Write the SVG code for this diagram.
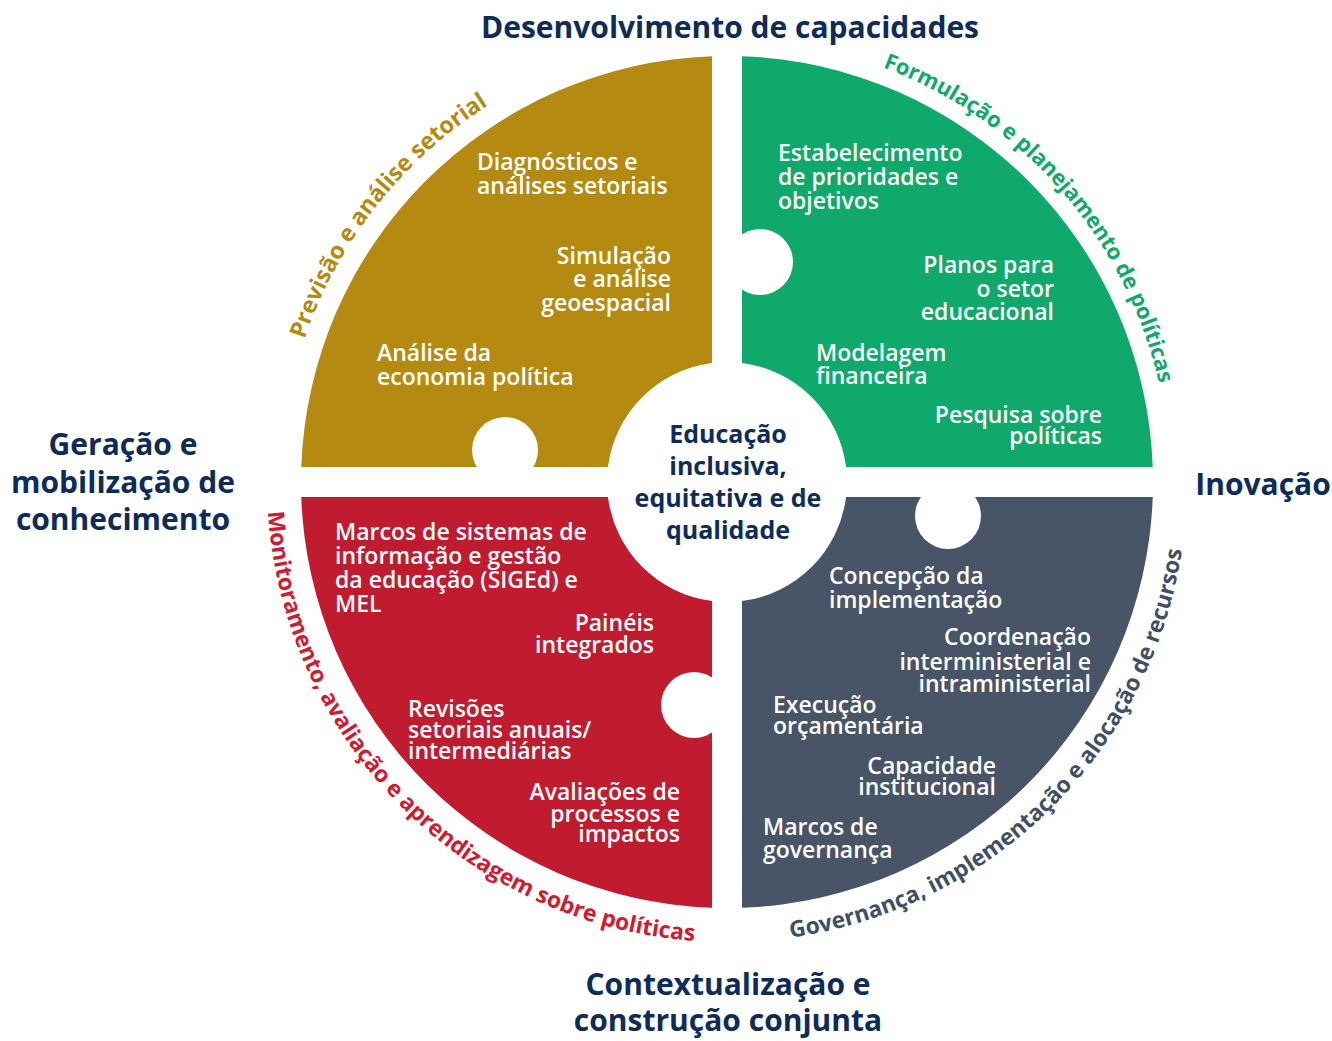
<svg xmlns="http://www.w3.org/2000/svg" width="1332" height="1041" viewBox="0 0 1332 1041">
<style>
  .bg{fill:#ffffff}
  .hole{fill:#ffffff}
  .body{font-family:"Open Sans","Noto Sans","Liberation Sans",sans-serif;font-size:23px;font-weight:600;fill:#ffffff}
  .r{text-anchor:end}
  .head{font-family:"Open Sans","Noto Sans","Liberation Sans",sans-serif;font-size:30px;font-weight:700;fill:#0E2C5A;text-anchor:middle}
  .center{font-family:"Open Sans","Noto Sans","Liberation Sans",sans-serif;font-size:25px;font-weight:700;fill:#0E2C5A;text-anchor:middle}
  .arc{font-family:"Open Sans","Noto Sans","Liberation Sans",sans-serif;font-size:22.8px;font-weight:700;text-anchor:middle}
</style>
<defs>
  <path id="pGold" d="M 281,482 A 446 446 0 0 1 727,36" fill="none"/>
  <path id="pGreen" d="M 727,39 A 443 443 0 0 1 1170,482" fill="none"/>
  <path id="pRed" d="M 267,482 A 460 460 0 0 0 727,942" fill="none"/>
  <path id="pSlate" d="M 727,942 A 460 460 0 0 0 1187,482" fill="none"/>
</defs>
<rect class="bg" x="0" y="0" width="1332" height="1041"/>

<g id="previsao">
  <path d="M 712,56.26 L 712,362.94 A 120 120 0 0 0 607.94,467 L 301.26,467 A 426 426 0 0 1 712,56.26 Z" fill="#B48A11"/>
  <circle class="hole" cx="505" cy="450" r="33"/>
  <text class="arc" fill="#B48A11" style="font-size:23.3px"><textPath href="#pGold" startOffset="42.4%">Previsão e análise setorial</textPath></text>
  <text class="body" x="477" y="170">Diagnósticos e</text>
  <text class="body" x="477" y="194">análises setoriais</text>
  <text class="body r" x="671" y="264">Simulação</text>
  <text class="body r" x="671" y="287">e análise</text>
  <text class="body r" x="671" y="311">geoespacial</text>
  <text class="body" x="377" y="361">Análise da</text>
  <text class="body" x="377" y="385">economia política</text>
</g>

<g id="formulacao">
  <path d="M 742,56.26 A 426 426 0 0 1 1152.74,467 L 846.06,467 A 120 120 0 0 0 742,362.94 Z" fill="#0FA96B"/>
  <circle class="hole" cx="760" cy="262" r="33"/>
  <text class="arc" fill="#0FA96B" style="font-size:21.9px"><textPath href="#pGreen" startOffset="54.3%">Formulação e planejamento de políticas</textPath></text>
  <text class="body" x="778" y="161">Estabelecimento</text>
  <text class="body" x="778" y="185">de prioridades e</text>
  <text class="body" x="778" y="209">objetivos</text>
  <text class="body r" x="1054" y="273">Planos para</text>
  <text class="body r" x="1054" y="297">o setor</text>
  <text class="body r" x="1054" y="320">educacional</text>
  <text class="body" x="816" y="361">Modelagem</text>
  <text class="body" x="816" y="384">financeira</text>
  <text class="body r" x="1102" y="423">Pesquisa sobre</text>
  <text class="body r" x="1102" y="444">políticas</text>
</g>

<g id="monitoramento">
  <path d="M 712,907.74 A 426 426 0 0 1 301.26,497 L 607.94,497 A 120 120 0 0 0 712,601.06 Z" fill="#C11B2F"/>
  <circle class="hole" cx="694" cy="705" r="33"/>
  <text class="arc" fill="#D3192F"><textPath href="#pRed" startOffset="49.8%">Monitoramento, avaliação e aprendizagem sobre políticas</textPath></text>
  <text class="body" x="335" y="540">Marcos de sistemas de</text>
  <text class="body" x="335" y="564">informação e gestão</text>
  <text class="body" x="335" y="588">da educação (SIGEd) e</text>
  <text class="body" x="335" y="612">MEL</text>
  <text class="body r" x="654" y="631">Painéis</text>
  <text class="body r" x="654" y="653">integrados</text>
  <text class="body" x="408" y="717">Revisões</text>
  <text class="body" x="408" y="738">setoriais anuais/</text>
  <text class="body" x="408" y="759">intermediárias</text>
  <text class="body r" x="680" y="800">Avaliações de</text>
  <text class="body r" x="680" y="822">processos e</text>
  <text class="body r" x="680" y="842">impactos</text>
</g>

<g id="governanca">
  <path d="M 1152.74,497 A 426 426 0 0 1 742,907.74 L 742,601.06 A 120 120 0 0 0 846.06,497 Z" fill="#475567"/>
  <circle class="hole" cx="948" cy="516" r="33"/>
  <text class="arc" fill="#3E5064"><textPath href="#pSlate" startOffset="49.7%">Governança, implementação e alocação de recursos</textPath></text>
  <text class="body" x="829" y="584">Concepção da</text>
  <text class="body" x="829" y="608">implementação</text>
  <text class="body r" x="1091" y="645">Coordenação</text>
  <text class="body r" x="1091" y="670">interministerial e</text>
  <text class="body r" x="1091" y="692">intraministerial</text>
  <text class="body" x="773" y="713">Execução</text>
  <text class="body" x="773" y="734">orçamentária</text>
  <text class="body r" x="996" y="774">Capacidade</text>
  <text class="body r" x="996" y="795">institucional</text>
  <text class="body" x="763" y="835">Marcos de</text>
  <text class="body" x="763" y="858">governança</text>
</g>

<g id="centro">
  <text class="center" x="728" y="443">Educação</text>
  <text class="center" x="728" y="475">inclusiva,</text>
  <text class="center" x="728" y="507">equitativa e de</text>
  <text class="center" x="728" y="539">qualidade</text>
</g>

<g id="titulos">
  <text class="head" x="730" y="38">Desenvolvimento de capacidades</text>
  <text class="head" x="123" y="455">Geração e</text>
  <text class="head" x="123" y="493">mobilização de</text>
  <text class="head" x="123" y="530">conhecimento</text>
  <text class="head" x="1263" y="495">Inovação</text>
  <text class="head" x="728" y="995">Contextualização e</text>
  <text class="head" x="728" y="1031">construção conjunta</text>
</g>

<g id="connectors"></g>
</svg>
